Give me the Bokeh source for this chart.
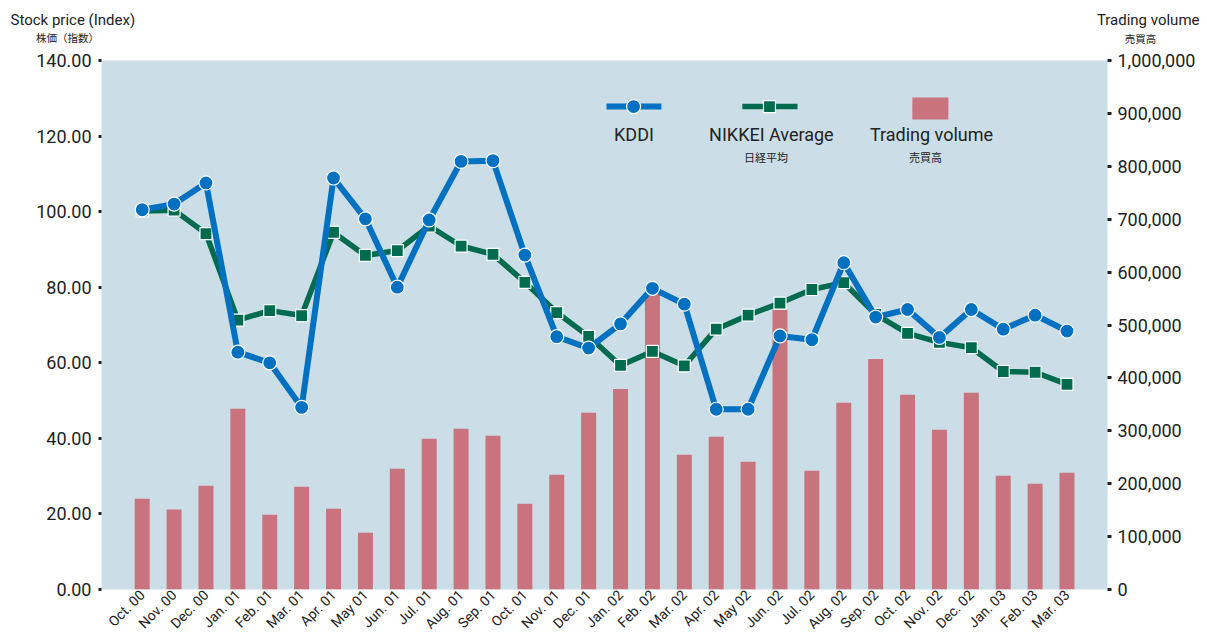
import math
from bokeh.plotting import figure
from bokeh.layouts import column
from bokeh.models import Range1d, LinearAxis, FixedTicker, NumeralTickFormatter, Label
from bokeh.embed import file_html
from bokeh.resources import INLINE

months = ["Oct. 00", "Nov. 00", "Dec. 00", "Jan. 01", "Feb. 01", "Mar. 01", "Apr. 01", "May 01",
          "Jun. 01", "Jul. 01", "Aug. 01", "Sep. 01", "Oct. 01", "Nov. 01", "Dec. 01", "Jan. 02",
          "Feb. 02", "Mar. 02", "Apr. 02", "May 02", "Jun. 02", "Jul. 02", "Aug. 02", "Sep. 02",
          "Oct. 02", "Nov. 02", "Dec. 02", "Jan. 03", "Feb. 03", "Mar. 03"]

kddi = [100.5, 102.0, 107.6, 62.8, 60.0, 48.2, 108.9, 98.1, 80.0, 97.8, 113.3, 113.5,
        88.5, 66.9, 63.9, 70.3, 79.7, 75.5, 47.7, 47.7, 67.1, 66.1, 86.5, 72.1,
        74.1, 66.7, 74.1, 68.9, 72.6, 68.4]

nikkei = [100.2, 100.4, 94.2, 71.3, 73.8, 72.5, 94.5, 88.4, 89.7, 96.2, 90.9, 88.7,
          81.3, 73.3, 67.0, 59.3, 63.0, 59.2, 68.9, 72.6, 75.8, 79.4, 81.2, 72.8,
          67.8, 65.4, 64.0, 57.7, 57.5, 54.3]

volume = [171700, 151000, 196000, 341500, 141500, 194300, 152800, 107500, 228300, 285000,
          303800, 290600, 162300, 217000, 334000, 379000, 560000, 254700, 288700, 241500,
          528900, 224500, 352800, 435800, 368000, 301900, 371700, 215000, 200000, 220800]

price_ticks = [0, 20, 40, 60, 80, 100, 120, 140]
volume_ticks = [0, 100000, 200000, 300000, 400000, 500000, 600000, 700000, 800000, 900000, 1000000]

FONT = "Roboto"
JP = "Noto Sans CJK JP"
TXT = "#222222"
BLUE = "#0070C0"
GREEN = "#006B4E"
BAR = "#C8737E"
BG = "#CBDEE7"

idx = list(range(len(months)))

W = 1207
LEFT = 101      # left border of the plot frame (px)
FRAME_W = 1006  # width of the plot frame (px)
HEAD_H = 48
TOP = 12

# ---------- header with the two axis titles (data units = pixels) ----------
head = figure(width=W, height=HEAD_H, output_backend="svg", toolbar_location=None,
              x_range=Range1d(0, W), y_range=Range1d(HEAD_H, 0),
              x_axis_type=None, y_axis_type=None, min_border=0)
head.frame_align = False
head.outline_line_color = None
head.grid.visible = False
head.background_fill_color = "white"
head.border_fill_color = "white"


def hlab(x, y, t, size, font=FONT, align="left"):
    head.add_layout(Label(x=x, y=y, text=t, text_font=font, text_font_size=size, text_color=TXT,
                          text_align=align, text_baseline="middle"))


hlab(10, 19, "Stock price (Index)", "15px")
hlab(67, 37, "株価（指数）", "10.5px", font=JP, align="center")
hlab(1199, 19, "Trading volume", "15px", align="right")
hlab(1140, 38, "売買高", "10.5px", font=JP, align="center")

# ---------- main chart ----------
p = figure(width=W, height=640 - HEAD_H, output_backend="svg", toolbar_location=None,
           x_range=Range1d(-1.276, 30.27), y_range=Range1d(0, 140),
           min_border_left=LEFT, min_border_right=W - LEFT - FRAME_W,
           min_border_top=TOP, min_border_bottom=640 - HEAD_H - TOP - 530)
p.frame_align = False
p.extra_y_ranges = {"vol": Range1d(0, 1000000)}
p.background_fill_color = BG
p.border_fill_color = "white"
p.outline_line_color = None
p.grid.visible = False

# bars
p.vbar(x=idx, top=volume, width=0.47, y_range_name="vol", fill_color=BAR, line_color=None)

# NIKKEI
p.line(idx, nikkei, line_color=GREEN, line_width=5.5)
p.scatter(idx, nikkei, marker="square", size=12, fill_color=GREEN, line_color="white", line_width=1.2)
# KDDI
p.line(idx, kddi, line_color=BLUE, line_width=6)
p.scatter(idx, kddi, marker="circle", size=14, fill_color=BLUE, line_color="white", line_width=1.2)

# legend (inside the plot area)
LEG_Y = 127.8
p.line([14.56, 16.28], [LEG_Y, LEG_Y], line_color=BLUE, line_width=6)
p.scatter([15.41], [LEG_Y], marker="circle", size=14, fill_color=BLUE, line_color="white", line_width=1.2)
p.line([18.82, 20.55], [LEG_Y, LEG_Y], line_color=GREEN, line_width=5.5)
p.scatter([19.67], [LEG_Y], marker="square", size=12, fill_color=GREEN, line_color="white", line_width=1.2)
p.quad(left=[24.15], right=[25.28], bottom=[124.4], top=[130.2], fill_color=BAR, line_color=None)


def lab(x, y, t, size, font=FONT, align="center"):
    p.add_layout(Label(x=x, y=y, text=t, text_font=font, text_font_size=size, text_color=TXT,
                       text_align=align, text_baseline="middle"))


lab(15.42, 120.4, "KDDI", "18px")
lab(19.73, 120.4, "NIKKEI Average", "18px")
lab(24.75, 120.4, "Trading volume", "18px")
lab(19.56, 114.5, "日経平均", "11px", font=JP)
lab(24.56, 114.5, "売買高", "11px", font=JP)

# x axis
xa = p.xaxis[0]
xa.ticker = FixedTicker(ticks=idx)
xa.major_label_overrides = {i: m for i, m in enumerate(months)}
xa.major_label_orientation = math.pi / 4
xa.major_tick_out = 0
xa.major_tick_in = 0
xa.minor_tick_line_color = None
xa.axis_line_color = None
xa.major_label_text_font = FONT
xa.major_label_text_font_size = "14px"
xa.major_label_text_color = TXT
xa.major_label_standoff = 3

# left axis
ya = p.yaxis[0]
ya.ticker = FixedTicker(ticks=price_ticks)
ya.formatter = NumeralTickFormatter(format="0.00")
ya.axis_line_color = None
ya.minor_tick_line_color = None
ya.major_tick_in = 0
ya.major_tick_out = 6
ya.major_tick_line_width = 3
ya.major_tick_line_dash = "0 3 3"
ya.major_tick_line_color = TXT
ya.major_label_standoff = 4
ya.major_label_text_font = FONT
ya.major_label_text_font_size = "18px"
ya.major_label_text_color = TXT

# right axis
ra = LinearAxis(y_range_name="vol", ticker=FixedTicker(ticks=volume_ticks),
                formatter=NumeralTickFormatter(format="0,0"))
ra.axis_line_color = None
ra.minor_tick_line_color = None
ra.major_tick_in = 0
ra.major_tick_out = 7
ra.major_tick_line_width = 3
ra.major_tick_line_dash = "0 3 3"
ra.major_tick_line_color = TXT
ra.major_label_standoff = 3
ra.major_label_text_font = FONT
ra.major_label_text_font_size = "18px"
ra.major_label_text_color = TXT
p.add_layout(ra, "right")

layout = column(head, p, spacing=0)
open("out.html", "w").write(file_html(layout, INLINE))
